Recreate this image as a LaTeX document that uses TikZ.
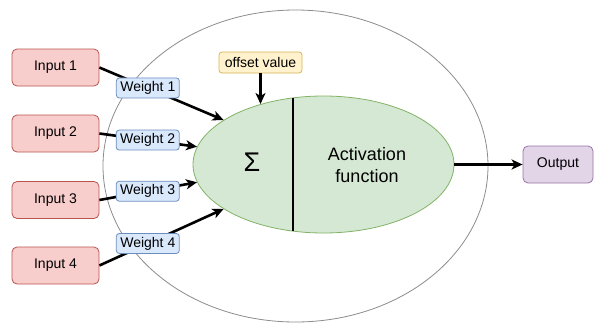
\documentclass[tikz,border=0pt]{standalone}
\usepackage{fontspec}
\setmainfont{Liberation Sans}
\usetikzlibrary{arrows.meta,shapes.geometric,calc}

\definecolor{inFill}{HTML}{F8CECC}\definecolor{inLine}{HTML}{B85450}
\definecolor{wFill}{HTML}{DAE8FC}\definecolor{wLine}{HTML}{6C8EBF}
\definecolor{oFill}{HTML}{FFF2CC}\definecolor{oLine}{HTML}{D6B656}
\definecolor{gFill}{HTML}{D5E8D4}\definecolor{gLine}{HTML}{82B366}
\definecolor{pFill}{HTML}{E1D5E7}\definecolor{pLine}{HTML}{9673A6}

\tikzset{
  box/.style={draw, rounded corners=5pt, line width=0.8pt, inner sep=0pt,
    font=\fontsize{14}{16}\selectfont},
  inputbox/.style={box, fill=inFill, draw=inLine, minimum width=87pt, minimum height=37pt},
  weightbox/.style={box, fill=wFill, draw=wLine, rounded corners=3pt,
    minimum width=63pt, minimum height=20pt},
  offsetbox/.style={box, fill=oFill, draw=oLine, rounded corners=3pt,
    minimum width=83pt, minimum height=21pt},
  outbox/.style={box, fill=pFill, draw=pLine, minimum width=70pt, minimum height=37pt},
  conn/.style={line width=2.6pt, -{Stealth[length=11pt,width=10pt,inset=3pt]}},
}

\begin{document}
\begin{tikzpicture}[x=1pt, y=-1pt]
\useasboundingbox (0,0) rectangle (595,322);

% outer boundary of the neuron
\draw[gray!90, line width=0.8pt] (295.5,166) ellipse [x radius=192.5, y radius=156];

% summation / activation body
\node[ellipse, fill=gFill, draw=gLine, line width=0.8pt,
      minimum width=261pt, minimum height=137pt, inner sep=0pt] (g) at (323.5,164.5) {};
\draw[line width=2pt] ($(g.center)+(-30.5,-66.6)$) -- ($(g.center)+(-30.5,66.6)$);
\node[font=\fontsize{27}{30}\selectfont] (sigma) at (252,162) {Σ};
\node[font=\fontsize{18}{22}\selectfont, align=center] (act) at (367,165)
  {Activation\\function};

% inputs
\node[inputbox] (in1) at (55.5,67.5) {Input 1};
\node[inputbox] (in2) at (55.5,133.5) {Input 2};
\node[inputbox] (in3) at (55.5,200) {Input 3};
\node[inputbox] (in4) at (55.5,265.5) {Input 4};

% weighted connections into the body
\draw[conn] (in1.east) -- node[weightbox, pos=0.39] (w1) {Weight 1} (g.156.8);
\draw[conn] (in2.east) -- node[weightbox, pos=0.495] (w2) {Weight 2} (g.172.1);
\draw[conn] (in3.east) -- node[weightbox, pos=0.495] (w3) {Weight 3} (g.188.8);
\draw[conn] (in4.east) -- node[weightbox, pos=0.39] (w4) {Weight 4} (g.204.4);

% bias
\node[offsetbox] (off) at (260.5,62.5) {offset value};
\draw[conn] (off.south) -- (off.south |- g.136.7);

% output
\node[outbox] (out) at (558,164.5) {Output};
\draw[conn] (g.east) -- (out.west);
\end{tikzpicture}
\end{document}
